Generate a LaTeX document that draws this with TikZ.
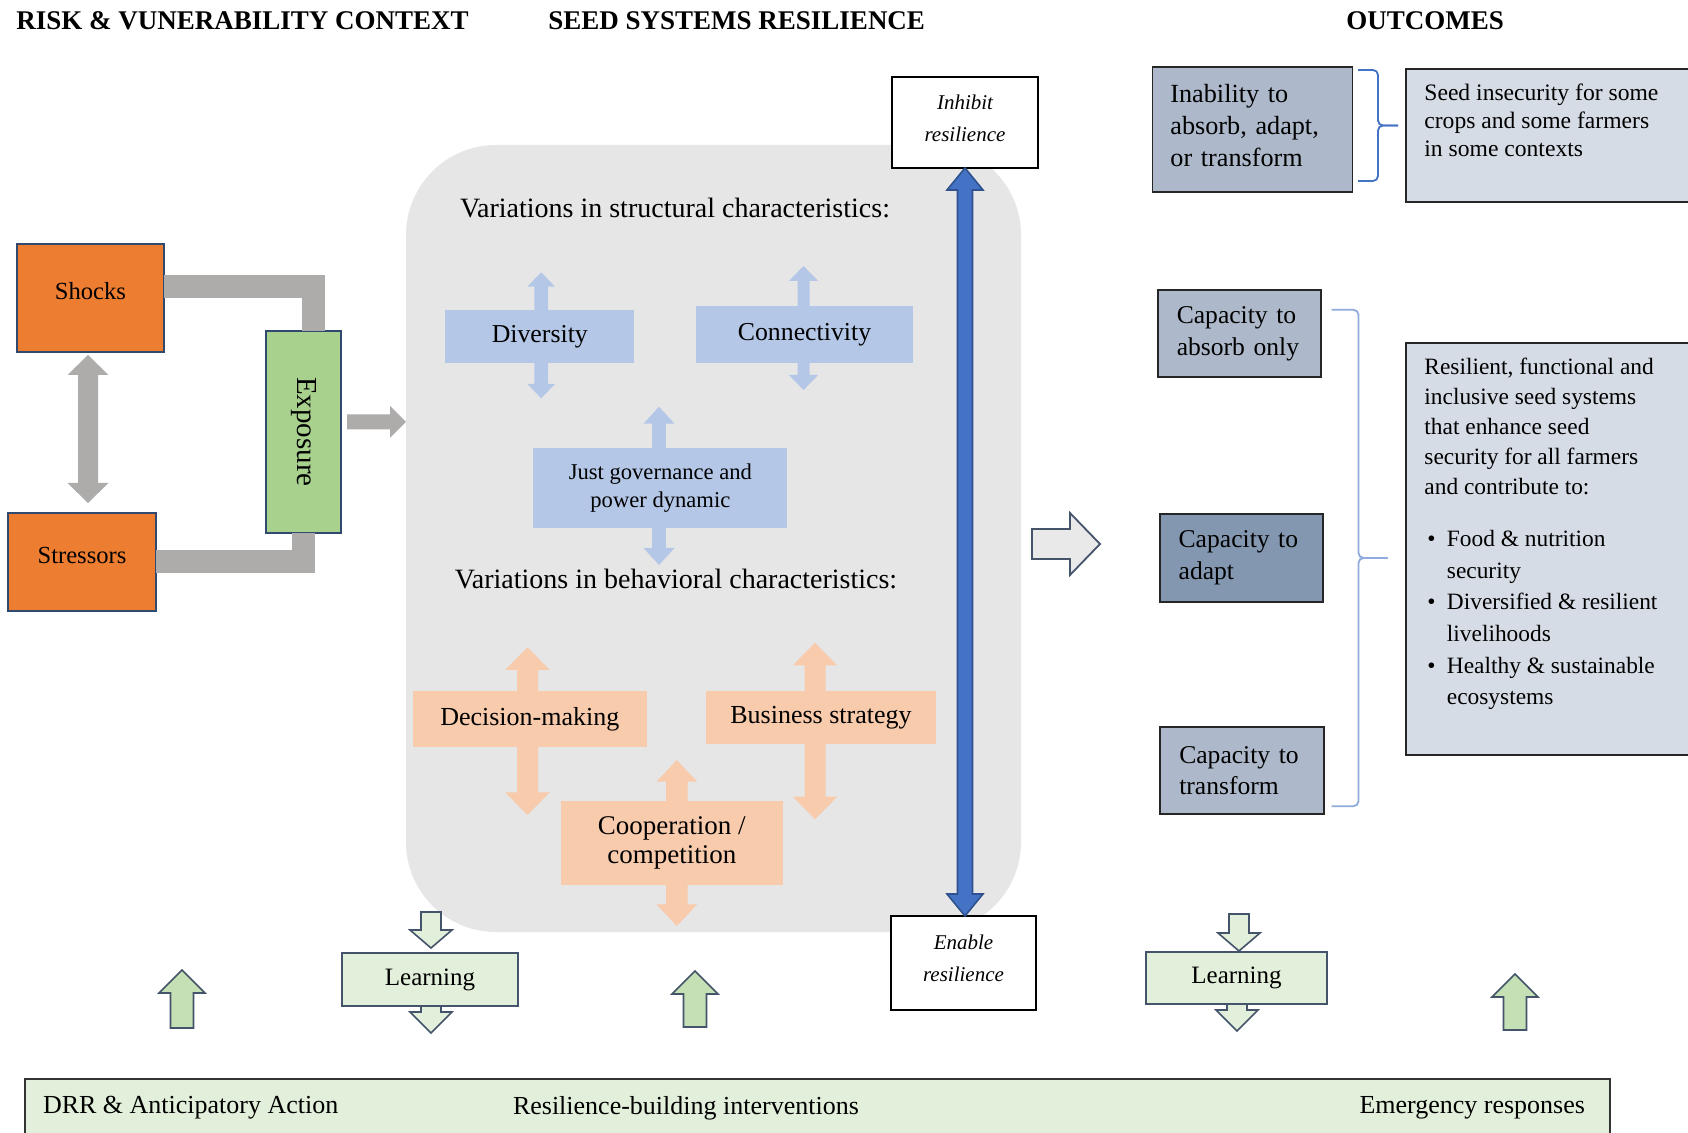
\documentclass[tikz,border=0pt]{standalone}
\usepackage{fontspec}
\usepackage{graphicx}
\setmainfont{Liberation Serif}
\usetikzlibrary{calc}
\definecolor{orng}{HTML}{ED7D31}
\definecolor{bordr}{HTML}{2F4A6E}
\definecolor{expg}{HTML}{A9D18E}
\definecolor{connG}{HTML}{AEABAB}
\definecolor{contG}{HTML}{E6E6E6}
\definecolor{bluL}{HTML}{B4C7E7}
\definecolor{orL}{HTML}{F8CBAD}
\definecolor{bluD}{HTML}{4472C4}
\definecolor{bluDD}{HTML}{2F528F}
\definecolor{capA}{HTML}{ADB9CA}
\definecolor{capB}{HTML}{8497B0}
\definecolor{outc}{HTML}{D6DCE5}
\definecolor{grnL}{HTML}{E2EFDA}
\definecolor{grnM}{HTML}{C5E0B4}
\definecolor{slate}{HTML}{44546A}
\definecolor{braceA}{HTML}{4472C4}
\definecolor{braceB}{HTML}{8FAADC}
\definecolor{hollowF}{HTML}{E9E9E9}
% vertical double block arrow: style, top tip, bottom tip, shaft half, head half, head length
\newcommand{\vdarrow}[6]{\path[#1] (#2) -- ++(#5,#6) -- ++(-#5+#4,0) -- ($(#3)+(#4,-#6)$) -- ++(#5-#4,0) -- (#3) -- ++(-#5,-#6) -- ++(#5-#4,0) -- ($(#2)+(-#4,#6)$) -- ++(-#5+#4,0) -- cycle;}
% up block arrow: style, tip, tail centre, shaft half, head half, head length
\newcommand{\uparr}[6]{\path[#1] (#2) -- ++(#5,#6) -- ++(-#5+#4,0) -- ($(#3)+(#4,0)$) -- ++(-2*#4,0) -- ($(#2)+(-#4,#6)$) -- ++(-#5+#4,0) -- cycle;}
% down block arrow: style, tail centre, tip, shaft half, head half, head length
\newcommand{\dnarr}[6]{\path[#1] (#3) -- ++(#5,-#6) -- ++(-#5+#4,0) -- ($(#2)+(#4,0)$) -- ++(-2*#4,0) -- ($(#3)+(-#4,-#6)$) -- ++(-#5+#4,0) -- cycle;}
% right block arrow: style, tail centre, tip, shaft half, head half, head length
\newcommand{\rtarr}[6]{\path[#1] (#3) -- ++(-#6,#5) -- ++(0,-#5+#4) -- ($(#2)+(0,#4)$) -- ++(0,-2*#4) -- ($(#3)+(-#6,-#4)$) -- ++(0,-#5+#4) -- cycle;}
% right-facing brace: style, top end, bottom end, stem x offset, tip x offset
\newcommand{\brk}[5]{%
  \coordinate (#2mid) at ($(#2)!0.5!(#3)$);
  \draw[#1] (#2) -- ++(#4,0) -- ($(#2mid)+(#4,0)$) -- ($(#2mid)+(#5,0)$);
  \draw[#1] (#3) -- ++(#4,0) -- ($(#2mid)+(#4,0)$) -- ($(#2mid)+(#5,0)$);}
\begin{document}
\begin{tikzpicture}[x=0.5pt,y=-0.5pt,
  base/.style={font=\fontsize{12.3}{15}\selectfont, inner sep=0pt, outer sep=0pt, align=center},
  sz/.style 2 args={minimum width=#1*0.5pt, minimum height=#2*0.5pt},
  head/.style={font=\fontsize{13.5}{16}\selectfont\bfseries, inner sep=0pt, anchor=west},
  orbox/.style={base, fill=orng, draw=bordr, line width=0.9pt, text height=12pt, text depth=10pt},
  blbox/.style={base, fill=bluL, font=\fontsize{12.9}{15}\selectfont},
  obox/.style={base, fill=orL, font=\fontsize{13}{14.8}\selectfont},
  resbox/.style={base, fill=white, draw=black, line width=0.9pt},
  restext/.style={base, font=\fontsize{10.5}{16}\selectfont\itshape},
  capbox/.style={base, draw=black!85, line width=0.9pt, align=left, inner xsep=9.25pt, text width=62.75pt, font=\fontsize{12.8}{15.8}\selectfont},
  outbox/.style={base, fill=outc, draw=black!85, line width=0.9pt},
  learnbox/.style={base, fill=grnL, draw=slate, line width=1.1pt, font=\fontsize{12.5}{15}\selectfont},
  conn/.style={draw=connG, line width=11.5pt, line join=miter},
  garrow/.style={fill=grnM, draw=slate, line width=0.8pt},
  larrow/.style={fill=grnL, draw=slate, line width=0.8pt},
  bracestyle/.style={line width=0.9pt, rounded corners=2.5pt},
  otext/.style={inner sep=0pt, anchor=north west, align=left},
  bartext/.style={base, font=\fontsize{13}{15}\selectfont}
]
\clip (0,0) rectangle (1688,1133);
\fill[white] (0,0) rectangle (1688,1133);

% headings
\node[head] (h1) at (16,21) {RISK \& VUNERABILITY CONTEXT};
\node[head] (h2) at (548,21) {SEED SYSTEMS RESILIENCE};
\node[head] (h3) at (1346,21) {OUTCOMES};

% container
\node[fill=contG, rounded corners=45pt, sz={615}{787}, inner sep=0pt, outer sep=0pt] (cont) at (713.5,538.5) {};

% risk context
\node[orbox, sz={147}{108}] (shocks) at (90.5,298) {Shocks};
\node[orbox, sz={148}{98}] (stressors) at (82,562) {Stressors};
\node[base, fill=expg, draw=bordr, line width=0.9pt, sz={75}{202}, font=\fontsize{14.5}{16}\selectfont] (exposure) at (303.5,432) {\rotatebox{-90}{Exposure}};
\draw[conn] ([yshift=5.75pt]shocks.east) -| ([xshift=4.75pt]exposure.north);
\draw[conn] (exposure.south) |- (stressors.east);
\coordinate (ssA) at ($(shocks.south)+(-2.5,3)$);
\coordinate (ssB) at ($(stressors.north)+(6,-10)$);
\vdarrow{fill=connG}{ssA}{ssB}{10}{20.5}{20}
\coordinate (exA) at ($(exposure.east)+(6,-10)$);
\coordinate (exB) at (exA -| cont.west);
\rtarr{fill=connG}{exA}{exB}{7.5}{16}{16}

% structural / behavioural
\node[base, font=\fontsize{14}{16}\selectfont] (vstruct) at (675,208) {Variations in structural characteristics:};
\node[base, font=\fontsize{14}{16}\selectfont] (vbehav) at (676,579) {Variations in behavioral characteristics:};

\coordinate (divc) at (539.8,336.5);
\coordinate (conc) at (804.5,334.5);
\coordinate (govc) at (660.4,488);
\coordinate (decc) at (529.8,718.8);
\coordinate (busc) at (821,717.7);
\coordinate (cooc) at (671.8,843);

\coordinate (dvT) at ($(divc)+(1.4,-64.2)$);
\coordinate (dvB) at ($(divc)+(1.4,61.8)$);
\vdarrow{fill=bluL}{dvT}{dvB}{6.9}{13.8}{14.3}
\coordinate (cnT) at ($(conc)+(-0.9,-68.5)$);
\coordinate (cnB) at ($(conc)+(-0.9,55.5)$);
\vdarrow{fill=bluL}{cnT}{cnB}{6}{14.6}{15}
\coordinate (gvT) at ($(govc)+(-1.4,-81.3)$);
\coordinate (gvB) at ($(govc)+(-1.4,77)$);
\vdarrow{fill=bluL}{gvT}{gvB}{6.9}{15.5}{17}
\coordinate (dcT) at ($(decc)+(-2.3,-71.5)$);
\coordinate (dcB) at ($(decc)+(-2.3,96.2)$);
\vdarrow{fill=orL}{dcT}{dcB}{10.5}{22.3}{22.7}
\coordinate (bsT) at ($(busc)+(-6,-75)$);
\coordinate (bsB) at ($(busc)+(-6,101.6)$);
\vdarrow{fill=orL}{bsT}{bsB}{10.5}{22.3}{22.7}
\coordinate (coT) at ($(cooc)+(5,-83)$);
\coordinate (coB) at ($(cooc)+(5,83)$);
\vdarrow{fill=orL}{coT}{coB}{10.7}{20.4}{21.7}

\node[blbox, sz={189}{53}] (div) at (divc) {Diversity};
\node[blbox, sz={216.6}{57.6}] (con) at (conc) {Connectivity};
\node[blbox, sz={254}{80.6}, font=\fontsize{11.3}{14.2}\selectfont] (gov) at (govc) {Just governance and\\power dynamic};
\node[obox, sz={234.6}{55.7}] (dec) at (decc) {Decision-making};
\node[obox, sz={229.3}{53.3}] (bus) at (busc) {Business strategy};
\node[obox, sz={222}{84}, font=\fontsize{13.5}{14.8}\selectfont] (coop) at (cooc) {Cooperation /\\competition};

% inhibit / enable
\node[resbox, sz={146}{91}] (inhibit) at (965,122.5) {};
\node[restext] (inhibitT) at ($(inhibit.center)+(0,-4.5)$) {Inhibit\\resilience};
\node[resbox, sz={145}{94}] (enable) at (963.5,963) {};
\node[restext] (enableT) at ($(enable.center)+(0,-5)$) {Enable\\resilience};
\coordinate (bT) at (inhibit.south);
\coordinate (bB) at (inhibit.south |- enable.north);
\vdarrow{fill=bluD, draw=bluDD, line width=0.8pt}{bT}{bB}{7.5}{18}{22}

% hollow arrow
\coordinate (haA) at ($(cont.east)+(11,5.5)$);
\coordinate (haB) at ($(haA)+(68,0)$);
\rtarr{fill=hollowF, draw=slate, line width=0.9pt}{haA}{haB}{15}{31}{30}

% outcomes
\node[base, fill=capA, draw=black!85, line width=0.9pt, sz={200}{125}] (inab) at (1252.4,129.5) {};
\node[base, align=left, text width=82pt, font=\fontsize{13.1}{15.8}\selectfont] (inabT) at ($(inab.center)+(0,-4)$) {Inability to\\absorb, adapt,\\or transform};
\node[outbox, sz={294.4}{133}] (seedbox) at (1552.8,135.5) {};
\node[otext, font=\fontsize{11.8}{14}\selectfont] (seedtxt) at (1424,83) {Seed insecurity for some\\crops and some farmers\\in some contexts};
\coordinate (brA1) at (1358,70);
\coordinate (brA2) at (1358,181);
\brk{braceA, bracestyle}{brA1}{brA2}{20}{40}

\node[capbox, fill=capA, sz={162.5}{87.4}] (cabs) at (1239.5,333.5) {Capacity to\\absorb only};
\node[capbox, fill=capB, sz={162}{87.4}] (cada) at (1241.4,558) {Capacity to\\adapt};
\node[capbox, fill=capA, sz={164.3}{87}] (ctra) at (1242,770.8) {Capacity to\\transform};
\coordinate (brB1) at (1331.5,309.8);
\coordinate (brB2) at (1331.5,806.2);
\brk{braceB, bracestyle}{brB1}{brB2}{27}{56}

\node[outbox, sz={294.4}{412.2}] (resbox) at (1552.8,549.2) {};
\node[otext, font=\fontsize{11.7}{14.9}\selectfont] (restxt) at (1424,358) {Resilient, functional and\\inclusive seed systems\\that enhance seed\\security for all farmers\\and contribute to:};
\node[otext, font=\fontsize{11.7}{15.8}\selectfont] (reslist) at (1424,530) {%
\makebox[11.25pt][l]{\hspace{1.5pt}\textbullet}Food \& nutrition\\\hspace*{11.25pt}security\\
\makebox[11.25pt][l]{\hspace{1.5pt}\textbullet}Diversified \& resilient\\\hspace*{11.25pt}livelihoods\\
\makebox[11.25pt][l]{\hspace{1.5pt}\textbullet}Healthy \& sustainable\\\hspace*{11.25pt}ecosystems};

% learning
\node[learnbox, sz={176}{53}] (learn1) at (430,979.5) {Learning};
\node[learnbox, sz={181}{52}] (learn2) at (1236.5,978) {Learning};
\coordinate (l1a) at ($(learn1.north)+(1,-41)$);
\coordinate (l1b) at ($(learn1.north)+(1,-5)$);
\dnarr{larrow}{l1a}{l1b}{10}{21}{18}
\coordinate (l1c) at ($(learn1.south)+(1,0)$);
\coordinate (l1d) at ($(learn1.south)+(1,27)$);
\dnarr{larrow}{l1c}{l1d}{10}{21}{21}
\coordinate (l2a) at ($(learn2.north)+(2.5,-38)$);
\coordinate (l2b) at ($(learn2.north)+(2.5,-1)$);
\dnarr{larrow}{l2a}{l2b}{10}{21}{18}
\coordinate (l2c) at ($(learn2.south)+(0.5,0)$);
\coordinate (l2d) at ($(learn2.south)+(0.5,27)$);
\dnarr{larrow}{l2c}{l2d}{10}{21}{21}

% up arrows
\coordinate (u1t) at (182,970);
\coordinate (u1b) at (182,1028);
\uparr{garrow}{u1t}{u1b}{11.5}{23}{23}
\coordinate (u2t) at (695,971);
\coordinate (u2b) at (695,1027);
\uparr{garrow}{u2t}{u2b}{11.5}{23}{23}
\coordinate (u3t) at (1515,974);
\coordinate (u3b) at (1515,1030);
\uparr{garrow}{u3t}{u3b}{11.5}{23}{23}

% bottom bar
\node[base, fill=grnL, draw=black!80, line width=0.9pt, sz={1585}{66}] (bar) at (817.5,1112) {};
\node[bartext, anchor=west] (drr) at (43,1108) {DRR \& Anticipatory Action};
\node[bartext, anchor=west] (rbi) at (513,1108) {Resilience-building interventions};
\node[bartext, anchor=east] (emr) at (1585,1108) {Emergency responses};
\end{tikzpicture}
\end{document}
